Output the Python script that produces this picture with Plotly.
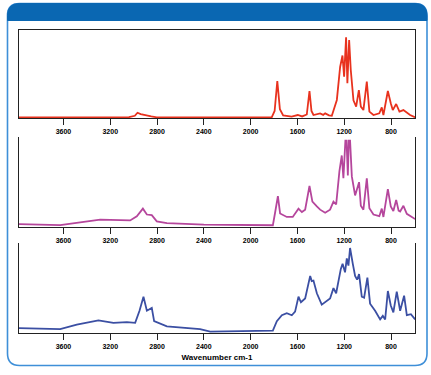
import plotly.graph_objects as go

# ---- data (wavenumber cm-1, relative absorbance) ----
wn_top = [3980, 3700, 3200, 3040, 2990, 2967, 2940, 2900, 2850, 2802, 2400, 2000, 1819, 1795,
          1772, 1750, 1722, 1650, 1597, 1560, 1520, 1497, 1480, 1463, 1430, 1406, 1380, 1363,
          1330, 1306, 1263, 1235, 1215, 1201, 1184, 1173, 1158, 1144, 1121, 1098, 1075, 1058,
          1036, 1007, 985, 950, 900, 879, 865, 827, 802, 785, 756, 728, 694, 637, 594]
ab_top = [0.8, 0.8, 0.8, 1.0, 2.5, 6.0, 4.5, 3.0, 1.8, 0.8, 0.8, 0.8, 1.0, 8.0,
          42.0, 10.0, 3.0, 1.5, 3.4, 1.8, 4.0, 30.7, 8.0, 3.4, 4.5, 5.3, 3.5, 5.3,
          3.0, 2.5, 20.5, 58.0, 71.0, 47.0, 91.7, 39.4, 88.6, 54.5, 20.0, 12.9, 31.8, 12.9,
          9.0, 41.3, 7.2, 3.4, 5.3, 12.0, 3.4, 30.7, 16.7, 9.0, 15.9, 7.2, 9.0, 3.4, 0.8]

wn_mid = [3980, 3628, 3286, 3030, 2973, 2921, 2887, 2845, 2802, 2716, 2400, 2004, 1810, 1791,
          1767, 1748, 1691, 1640, 1591, 1562, 1534, 1497, 1472, 1434, 1406, 1363, 1321, 1292,
          1269, 1241, 1221, 1207, 1190, 1180, 1169, 1161, 1150, 1135, 1107, 1073, 1058, 1036,
          1007, 985, 950, 900, 879, 865, 827, 802, 780, 756, 735, 722, 694, 665, 594]
ab_mid = [3.0, 1.9, 7.8, 7.0, 11.5, 19.6, 13.3, 12.6, 6.0, 4.1, 2.5, 1.9, 1.9, 15.2,
          33.0, 14.4, 10.7, 10.7, 19.6, 15.9, 18.5, 43.7, 27.0, 21.9, 18.5, 15.2, 18.5, 27.0,
          24.0, 59.6, 76.3, 52.0, 92.0, 92.0, 55.0, 92.0, 92.0, 54.0, 33.7, 47.8, 22.6, 18.5,
          52.0, 20.0, 13.3, 11.5, 19.6, 10.7, 40.4, 22.0, 17.0, 28.9, 17.5, 16.5, 22.6, 14.0, 8.5]

wn_bot = [3980, 3628, 3486, 3301, 3173, 3058, 2987, 2950, 2916, 2887, 2845, 2825, 2716, 2432,
          2346, 2000, 1810, 1776, 1733, 1691, 1648, 1620, 1591, 1570, 1534, 1491, 1478, 1463,
          1434, 1392, 1363, 1321, 1292, 1269, 1229, 1214, 1193, 1178, 1164, 1150, 1127, 1107,
          1090, 1073, 1050, 1030, 1002, 979, 936, 893, 870, 850, 827, 802, 780, 751, 722,
          688, 665, 630, 594]
ab_bot = [5.5, 4.4, 9.2, 13.7, 11.1, 11.8, 11.1, 24.0, 38.9, 24.0, 27.0, 12.9, 7.4, 4.4,
          1.8, 2.2, 2.9, 12.9, 19.2, 21.4, 19.2, 23.0, 38.9, 33.0, 37.0, 61.0, 55.5, 56.0,
          42.6, 30.4, 33.0, 37.0, 48.0, 42.6, 68.5, 74.0, 64.8, 79.6, 72.0, 90.7, 74.0, 61.0,
          57.0, 62.9, 38.9, 37.8, 59.2, 31.5, 24.0, 14.8, 18.5, 14.8, 45.0, 29.6, 22.2, 44.4, 24.0,
          40.0, 19.2, 20.3, 14.8]

tick_vals = [3600, 3200, 2800, 2400, 2000, 1600, 1200, 800]
tick_text = ["3600", "3200", "2800", "2400", "2000", "1600", "1200", "800"]
x_title = "Wavenumber cm-1"

W, H = 431, 375
def px(x):
    return x / W
def py(y):
    return 1 - y / H

fig = go.Figure()
series = [(wn_top, ab_top, "#e8321e", "y"), (wn_mid, ab_mid, "#b5469c", "y2"), (wn_bot, ab_bot, "#3b4fa3", "y3")]
for i, (xs, ys, col, ya) in enumerate(series):
    fig.add_trace(go.Scatter(x=xs, y=ys, mode="lines", line=dict(color=col, width=1.8),
                             xaxis="x" if i == 0 else "x%d" % (i + 1), yaxis=ya,
                             showlegend=False, hoverinfo="skip"))

tickfont = dict(family="Liberation Sans", size=7, color="#000")
xcommon = dict(range=[3980, 595], showgrid=False, zeroline=False, showline=True, linecolor="#222",
               linewidth=1.3, ticks="outside", ticklen=6, tickcolor="#222", tickwidth=1.2,
               tickvals=tick_vals, ticktext=["<b>%s</b>" % t for t in tick_text], tickfont=tickfont,
               domain=[px(19), px(415)])
ycommon = dict(showgrid=False, zeroline=False, showline=True, linecolor="#222", linewidth=1.3,
               showticklabels=False, ticks="", range=[0, 100])

doms = [(30, 118), (137, 227), (243, 333.3)]
layout = dict(width=W, height=H, margin=dict(l=0, r=0, t=0, b=0),
              paper_bgcolor="white", plot_bgcolor="white")
for i, (t, b) in enumerate(doms):
    xa = dict(xcommon)
    ya = dict(ycommon)
    ya["domain"] = [py(b), py(t)]
    xname = "xaxis" if i == 0 else "xaxis%d" % (i + 1)
    yname = "yaxis" if i == 0 else "yaxis%d" % (i + 1)
    xa["anchor"] = "y" if i == 0 else "y%d" % (i + 1)
    ya["anchor"] = "x" if i == 0 else "x%d" % (i + 1)
    if i == 0:
        xa["mirror"] = True
        ya["mirror"] = True
    else:
        ya["mirror"] = True
        ya["range"] = [0, 96]
    if i == 2:
        xa["title"] = dict(text="<b>%s</b>" % x_title,
                           font=dict(family="Liberation Sans", size=8, color="#000"), standoff=5)
    layout[xname] = xa
    layout[yname] = ya
fig.update_layout(**layout)

# outer rounded frame and header
r_x, r_y = 12 / W, 12 / H
L, R, T, B = px(7.5), px(427), py(3.5), py(365.5)
frame = (f"M {L},{T - r_y} L {L},{B + r_y} Q {L},{B} {L + r_x},{B} L {R - r_x},{B} "
         f"Q {R},{B} {R},{B + r_y} L {R},{T - r_y} Q {R},{T} {R - r_x},{T} L {L + r_x},{T} Q {L},{T} {L},{T - r_y} Z")
hb = py(20.5)
header = (f"M {L},{hb} L {L},{T - r_y} Q {L},{T} {L + r_x},{T} L {R - r_x},{T} Q {R},{T} {R},{T - r_y} "
          f"L {R},{hb} Z")
fig.add_shape(type="path", path=frame, xref="paper", yref="paper",
              line=dict(color="#3e8fd8", width=1.6), fillcolor="rgba(0,0,0,0)", layer="below")
fig.add_shape(type="path", path=header, xref="paper", yref="paper",
              line=dict(color="#0a67b2", width=1), fillcolor="#0a67b2", layer="below")

fig.write_html("out.html", config={"displayModeBar": False},
               post_script="document.body.style.margin='0';")
